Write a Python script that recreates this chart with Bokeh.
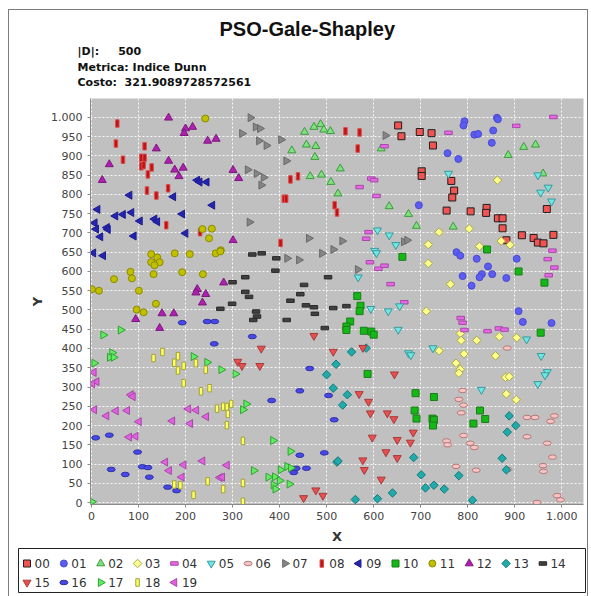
import math

from bokeh.core.properties import value
from bokeh.embed import file_html
from bokeh.layouts import column
from bokeh.models import ColumnDataSource, FixedTicker, InlineStyleSheet, Range1d, Title
from bokeh.plotting import figure
from bokeh.resources import INLINE

# ---------------------------------------------------------------- data
SERIES = ["00", "01", "02", "03", "04", "05", "06", "07", "08", "09",
          "10", "11", "12", "13", "14", "15", "16", "17", "18", "19"]

X_00 = [652, 659, 698, 723, 726, 702, 702, 765, 771, 767, 755, 806, 840, 839, 864, 874, 874, 968, 882, 915, 940, 949, 961, 982]
Y_00 = [979, 951, 962, 959, 927, 860, 848, 835, 810, 792, 758, 756, 765, 752, 738, 738, 712, 762, 681, 694, 687, 675, 673, 695]

X_01 = [793, 791, 862, 864, 814, 822, 854, 851, 757, 780, 696, 776, 784, 819, 843, 789, 830, 825, 852, 808, 882, 904, 908, 917, 978]
Y_01 = [990, 979, 999, 995, 955, 957, 966, 934, 907, 892, 772, 650, 641, 633, 613, 588, 593, 585, 593, 563, 583, 633, 497, 469, 466]

X_02 = [473, 487, 494, 508, 453, 457, 477, 426, 475, 529, 465, 489, 509, 524, 616, 633, 674, 919, 944, 886, 960, 691, 769]
Y_02 = [975, 982, 968, 964, 962, 929, 925, 914, 897, 867, 847, 851, 832, 802, 919, 769, 749, 923, 929, 902, 854, 718, 716]

X_03 = [863, 803, 739, 716, 825, 871, 890, 716, 763, 712, 784, 786, 819, 867, 904, 739, 792, 859, 775, 784, 781, 880, 888, 882, 903]
Y_03 = [837, 711, 702, 670, 665, 679, 669, 621, 567, 497, 439, 421, 421, 431, 428, 394, 386, 381, 362, 346, 336, 325, 327, 282, 267]

X_04 = [623, 595, 601, 570, 606, 589, 584, 759, 903, 982, 592, 610, 623, 636, 665, 980, 970, 984, 972, 785, 789, 793, 842, 866, 878]
Y_04 = [925, 841, 837, 819, 796, 702, 685, 960, 978, 1001, 624, 607, 615, 567, 520, 654, 632, 610, 590, 479, 467, 448, 445, 452, 449]

X_05 = [608, 633, 647, 759, 949, 971, 955, 978, 602, 606, 567, 594, 631, 655, 652, 726, 674, 679, 925, 956, 969, 964, 829, 949]
Y_05 = [707, 694, 669, 854, 850, 818, 805, 782, 654, 648, 585, 503, 497, 510, 449, 401, 388, 383, 424, 381, 339, 331, 293, 308]

X_06 = [884, 789, 781, 791, 786, 926, 943, 984, 976, 791, 755, 757, 805, 814, 926, 969, 980, 775, 818, 885, 960, 961, 990, 997, 947]
Y_06 = [401, 291, 268, 253, 233, 221, 221, 225, 211, 174, 160, 150, 154, 143, 171, 154, 118, 94, 84, 86, 96, 81, 18, 7, 0]

X_07 = [338, 349, 358, 320, 356, 372, 403, 414, 332, 351, 366, 361, 336, 462, 533, 625, 664, 671, 416, 441, 490, 514, 566]
Y_07 = [999, 975, 971, 958, 939, 927, 942, 887, 864, 854, 844, 824, 728, 686, 679, 953, 677, 681, 634, 630, 647, 657, 605]

X_08 = [55, 52, 113, 67, 106, 113, 106, 111, 128, 120, 118, 138, 163, 159, 231, 540, 570, 566, 423, 439, 409, 414, 517, 522, 402]
Y_08 = [984, 932, 925, 890, 895, 895, 873, 876, 870, 852, 810, 797, 816, 720, 702, 964, 961, 919, 839, 847, 789, 789, 772, 753, 674]

X_09 = [225, 230, 245, 81, 174, 13, 51, 67, 85, 103, 134, 140, 193, 257, 7, 10, 33, 35, 19, 90, 200, 4, 25]
Y_09 = [837, 832, 832, 798, 794, 761, 744, 748, 753, 731, 736, 729, 749, 772, 726, 710, 714, 709, 690, 692, 699, 648, 641]

X_10 = [661, 565, 572, 570, 550, 542, 542, 579, 595, 600, 587, 841, 908, 963, 955, 689, 728, 687, 691, 725, 728, 726, 826, 837, 812]
Y_10 = [638, 536, 511, 497, 470, 457, 448, 446, 444, 436, 334, 657, 600, 571, 441, 284, 274, 239, 218, 218, 215, 200, 239, 217, 205]

X_11 = [242, 236, 256, 250, 275, 127, 140, 127, 145, 134, 177, 209, 264, 274, 83, 48, 86, 132, 193, 237, 1, 16, 101, 137, 96, 111]
Y_11 = [997, 710, 711, 686, 655, 645, 636, 624, 624, 616, 647, 645, 647, 652, 599, 580, 582, 593, 598, 593, 554, 550, 550, 516, 501, 494]

X_12 = [164, 200, 215, 197, 247, 265, 138, 38, 164, 177, 195, 186, 23, 301, 313, 301, 281, 225, 222, 243, 236, 150, 175, 94, 145]
Y_12 = [999, 971, 975, 959, 939, 944, 919, 878, 887, 864, 869, 847, 837, 863, 842, 681, 571, 554, 545, 541, 519, 491, 491, 476, 453]

X_13 = [553, 584, 520, 500, 514, 544, 534, 522, 524, 561, 608, 640, 685, 701, 710, 728, 750, 781, 810, 873, 882, 888, 902, 884]
Y_13 = [391, 401, 359, 332, 297, 280, 253, 105, 108, 8, 10, 25, 117, 72, 38, 45, 35, 70, 6, 115, 85, 225, 200, 183]

X_14 = [300, 327, 327, 335, 299, 274, 342, 362, 393, 391, 452, 503, 423, 444, 456, 473, 475, 514, 542, 350, 352, 344, 415, 496]
Y_14 = [572, 585, 547, 534, 516, 503, 644, 647, 634, 602, 565, 585, 524, 541, 512, 507, 490, 505, 510, 496, 483, 474, 474, 453]

X_15 = [311, 320, 473, 361, 514, 577, 358, 644, 569, 589, 593, 629, 643, 597, 650, 626, 650, 577, 580, 616, 477, 492, 451, 684, 678]
Y_15 = [366, 355, 433, 400, 392, 402, 355, 333, 282, 262, 232, 232, 217, 169, 163, 131, 116, 110, 85, 60, 32, 18, 12, 182, 156]

X_16 = [193, 246, 262, 261, 342, 464, 9, 38, 98, 42, 72, 108, 120, 123, 162, 181, 443, 504, 383, 516, 495, 443, 435, 457, 430]
Y_16 = [467, 470, 470, 412, 431, 348, 168, 175, 131, 86, 73, 93, 91, 66, 40, 31, 290, 278, 265, 215, 129, 123, 89, 89, 78]

X_17 = [25, 62, 44, 39, 47, 6, 217, 246, 276, 306, 329, 322, 1, 386, 423, 345, 402, 416, 424, 376, 390, 400, 387, 391, 421]
Y_17 = [435, 448, 389, 377, 377, 362, 379, 364, 345, 334, 256, 241, 2, 161, 133, 83, 85, 94, 90, 66, 67, 57, 46, 35, 48]

X_18 = [151, 132, 184, 176, 196, 222, 184, 243, 196, 233, 251, 267, 280, 288, 297, 290, 288, 322, 176, 189, 247, 217, 280, 322, 322]
Y_18 = [391, 375, 380, 363, 355, 362, 343, 345, 310, 289, 297, 244, 249, 248, 256, 230, 201, 160, 47, 45, 55, 20, 35, 51, 2]

X_19 = [5, 11, 2, 84, 88, 6, 32, 52, 76, 101, 80, 94, 172, 206, 223, 244, 210, 157, 165, 196, 236, 192, 273, 278, 288]
Y_19 = [338, 314, 308, 280, 275, 241, 225, 238, 239, 210, 170, 172, 212, 243, 240, 223, 205, 105, 83, 98, 108, 66, 65, 66, 97]

X_TICKS = [0, 100, 200, 300, 400, 500, 600, 700, 800, 900, 1000]
Y_TICKS = [0, 50, 100, 150, 200, 250, 300, 350, 400, 450, 500,
           550, 600, 650, 700, 750, 800, 850, 900, 950, 1000]
TICK_LABEL_OVERRIDES = {1000: "1.000"}

TITLE = "PSO-Gale-Shapley"
SUBTITLES = ["|D|:\u00a0\u00a0\u00a0\u00a0\u00a0500",
             "Metrica: Indice Dunn",
             "Costo:\u00a0\u00a0321.9089728572561"]

XS = [X_00, X_01, X_02, X_03, X_04, X_05, X_06, X_07, X_08, X_09,
      X_10, X_11, X_12, X_13, X_14, X_15, X_16, X_17, X_18, X_19]
YS = [Y_00, Y_01, Y_02, Y_03, Y_04, Y_05, Y_06, Y_07, Y_08, Y_09,
      Y_10, Y_11, Y_12, Y_13, Y_14, Y_15, Y_16, Y_17, Y_18, Y_19]

# ---------------------------------------------------------------- styles
# (shape, fill colour, outline colour) for each series
STYLES = [
    ("square", "#f25454", "#1e1e1e"),
    ("circle", "#5c5cf2", "#4a4ad0"),
    ("triangle", "#80e080", "#3c9c3c"),
    ("diamond", "#ffff8c", "#a8a848"),
    ("hrect", "#e468e4", "#a848a8"),
    ("itriangle", "#6ee6e6", "#3a9a9a"),
    ("ellipse", "#f7c3c3", "#b47878"),
    ("rtriangle", "#858585", "#6a6a6a"),
    ("vrect", "#c41010", "#d85050"),
    ("ltriangle", "#2424b0", "#1c1c8c"),
    ("square", "#14b814", "#1c7c1c"),
    ("circle", "#c0c000", "#8a8a00"),
    ("triangle", "#b020b0", "#7c187c"),
    ("diamond", "#20aaaa", "#147a7a"),
    ("hrect", "#404040", "#2a2a2a"),
    ("itriangle", "#e85050", "#a83a3a"),
    ("ellipse", "#4848e8", "#3030a8"),
    ("rtriangle", "#60ec60", "#34a034"),
    ("vrect", "#ffff60", "#a0a040"),
    ("ltriangle", "#e060e0", "#a848a8"),
]

FONT = "DejaVu Sans"
TITLE_FONT = "Liberation Sans"
MARKER_ANGLE = {"rtriangle": -math.pi / 2, "ltriangle": math.pi / 2}


def draw_marks(fig, src, shape, fill, line):
    """Draw one series' marks with its shape, sized in screen pixels."""
    common = dict(source=src, fill_color=fill, line_color=line, line_width=1)
    if shape in ("hrect", "vrect"):
        w, h = (7.5, 3.5) if shape == "hrect" else (3.5, 7.5)
        return fig.rect("x", "y", width=w, height=h, width_units="screen",
                        height_units="screen", **common)
    if shape == "ellipse":
        return fig.ellipse("x", "y", width=8, height=4.5, width_units="screen",
                           height_units="screen", **common)
    if shape == "diamond":
        return fig.scatter("x", "y", marker="square", size=6,
                           angle=math.pi / 4, **common)
    if shape in ("square", "circle"):
        return fig.scatter("x", "y", marker=shape, size=7, **common)
    if shape == "itriangle":
        return fig.scatter("x", "y", marker="inverted_triangle", size=8, **common)
    return fig.scatter("x", "y", marker="triangle", size=8,
                       angle=MARKER_ANGLE.get(shape, 0.0), **common)


# grey frame around the whole chart
frame_css = InlineStyleSheet(css="""
:host::after {
  content: "";
  position: absolute;
  left: 8px; top: 9px; width: 580px; height: 600px;
  border: 1px solid #7c7c7c;
  box-sizing: border-box;
  pointer-events: none;
  z-index: 50;
}
""")

# ---------------------------------------------------------------- scatter plot
p = figure(width=591, height=546, output_backend="svg", toolbar_location=None,
           title=None,
           x_range=Range1d(-2, 1046), y_range=Range1d(-5, 1049),
           min_border_left=90, min_border_right=8,
           min_border_top=98, min_border_bottom=41,
           background_fill_color="#c0c0c0", border_fill_color="white",
           outline_line_color=None)
p.frame_align = False

sub_font = dict(text_font=FONT, text_font_size="11px", text_font_style="bold",
                text_color="#111111", align="left", offset=-13)
p.add_layout(Title(text="\u00a0", text_font_size="1px", standoff=7), "above")
p.add_layout(Title(text=SUBTITLES[2], standoff=0, **sub_font), "above")
p.add_layout(Title(text=SUBTITLES[1], standoff=0, **sub_font), "above")
p.add_layout(Title(text=SUBTITLES[0], standoff=2, **sub_font), "above")
p.add_layout(Title(text=TITLE, standoff=3, align="left", offset=129,
                   text_font=TITLE_FONT, text_font_size="20px",
                   text_font_style="bold", text_color="#111111"), "above")

for ax, ticks in ((p.xaxis, X_TICKS), (p.yaxis, Y_TICKS)):
    ax.ticker = FixedTicker(ticks=ticks)
    ax.major_label_overrides = TICK_LABEL_OVERRIDES
    ax.major_label_text_font = FONT
    ax.major_label_text_font_size = "11px"
    ax.major_label_text_color = "#444444"
    ax.axis_line_color = "#8a8a8a"
    ax.major_tick_line_color = "#8a8a8a"
    ax.major_tick_in = 0
    ax.major_tick_out = 3
    ax.minor_tick_out = 0
    ax.minor_tick_in = 0
    ax.axis_label_text_font = FONT
    ax.axis_label_text_font_size = "13px"
    ax.axis_label_text_font_style = "bold"
    ax.axis_label_text_color = "#333333"

p.xaxis.axis_label = "X"
p.yaxis.axis_label = "Y"
p.xaxis.major_label_standoff = 4
p.yaxis.major_label_standoff = 5
p.xaxis.axis_label_standoff = 6
p.yaxis.axis_label_standoff = 3

p.xgrid.ticker = FixedTicker(ticks=X_TICKS)
p.ygrid.ticker = FixedTicker(ticks=Y_TICKS)
for g in (p.xgrid, p.ygrid):
    g.grid_line_color = "white"
    g.grid_line_dash = "2 2"
    g.grid_line_width = 1
    g.grid_line_alpha = 0.9

for xs, ys, (shape, fill, line) in zip(XS, YS, STYLES):
    draw_marks(p, ColumnDataSource(data=dict(x=xs, y=ys)), shape, fill, line)

# ---------------------------------------------------------------- legend strip
# a pixel-scaled strip: 1 unit = 1 px, y measured upward from its bottom
LEG_W, LEG_H = 591, 50
leg = figure(width=LEG_W, height=LEG_H, output_backend="svg", toolbar_location=None,
             title=None, x_range=Range1d(0, LEG_W), y_range=Range1d(0, LEG_H),
             x_axis_location=None, y_axis_location=None,
             min_border=0, min_border_left=0, min_border_right=0,
             min_border_top=0, min_border_bottom=0,
             background_fill_color="white", border_fill_color="white",
             outline_line_color=None)
leg.frame_align = False
leg.grid.visible = False

# legend box
leg.quad(left=[18], right=[585], bottom=[4], top=[48],
         fill_color="white", line_color="#222222", line_width=1)

PER_ROW, PITCH, X0 = 15, 36.85, 26.5
ROW_Y = [33, 14]
for i, (name, (shape, fill, line)) in enumerate(zip(SERIES, STYLES)):
    cx = X0 + PITCH * (i % PER_ROW)
    cy = ROW_Y[i // PER_ROW]
    draw_marks(leg, ColumnDataSource(data=dict(x=[cx], y=[cy])), shape, fill, line)
    leg.text(x=[cx + 7.5], y=[cy], text=[name], text_font=value(FONT),
             text_font_size="12px", text_baseline="middle", text_align="left",
             text_color="#333333")

layout = column(p, leg, spacing=0)
layout.stylesheets = [frame_css]

open("out.html", "w").write(file_html(layout, INLINE))
